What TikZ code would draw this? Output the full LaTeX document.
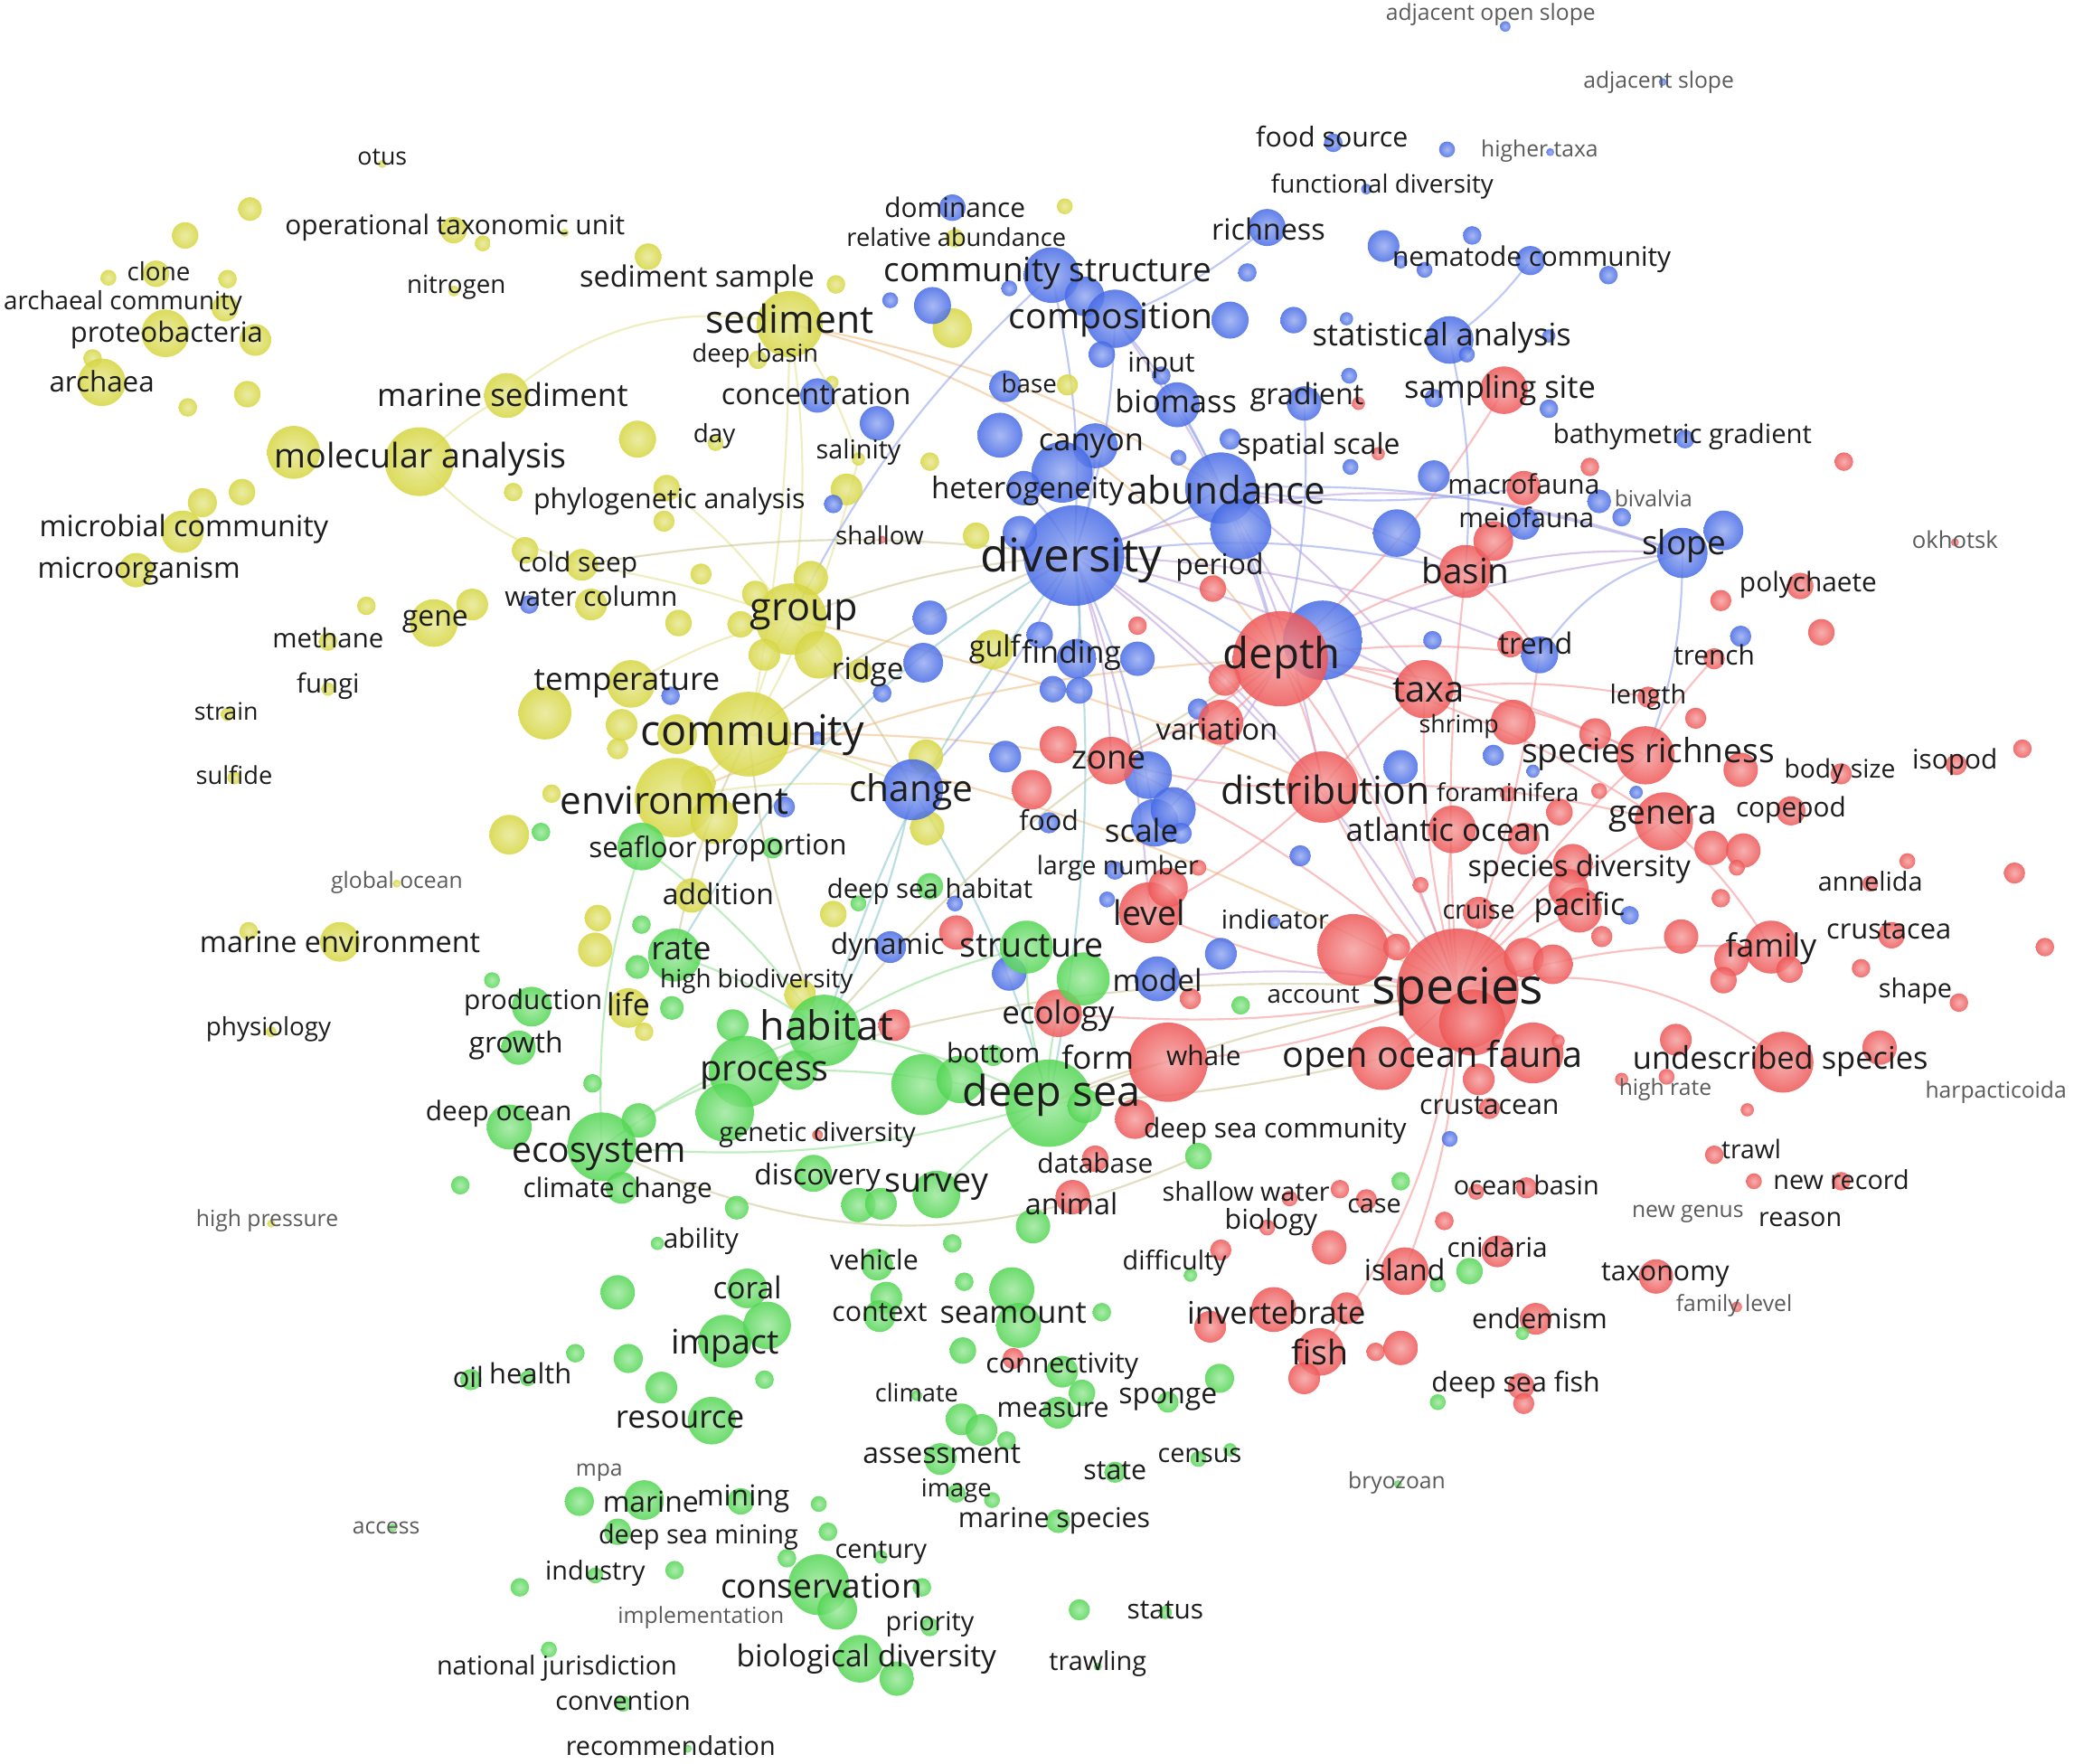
\documentclass[tikz,border=0pt]{standalone}
\usepackage{fontspec}
\setmainfont{Open Sans}
\definecolor{cr}{RGB}{238,86,86}
\definecolor{cb}{RGB}{70,106,230}
\definecolor{cg}{RGB}{82,214,82}
\definecolor{cy}{RGB}{214,214,64}
\definecolor{tx}{RGB}{28,28,28}
\definecolor{tg}{RGB}{90,90,90}
\definecolor{ceY}{RGB}{228,228,150}
\definecolor{ceO}{RGB}{240,192,135}
\definecolor{ceB}{RGB}{150,166,236}
\definecolor{ceP}{RGB}{192,162,222}
\definecolor{ceR}{RGB}{246,152,152}
\definecolor{ceG}{RGB}{150,226,150}
\definecolor{ceT}{RGB}{140,200,205}
\definecolor{ceV}{RGB}{206,200,152}
\tikzset{
  lab/.style={inner sep=0pt, text=tx},
  labg/.style={inner sep=0pt, text=tg},
  edge/.style={line width=0.42pt, opacity=0.6},
  ey/.style={edge, draw=ceY}, eo/.style={edge, draw=ceO}, eb/.style={edge, draw=ceB},
  ep/.style={edge, draw=ceP}, er/.style={edge, draw=ceR}, eg/.style={edge, draw=ceG},
  et/.style={edge, draw=ceT}, ev/.style={edge, draw=ceV}
}
% pass 1: coordinates only
\newcommand\kbubA[5]{\coordinate (#1) at (#2,#3);}
\newcommand\xbubA[4]{}
% pass 2: draw bubbles
\newcommand\kbubB[5]{\shade[inner color=#5!55!white,outer color=#5,fill opacity=0.85] (#1) circle[radius=#4];}
\newcommand\xbubB[4]{\shade[inner color=#4!55!white,outer color=#4,fill opacity=0.85] (#1,#2) circle[radius=#3];}
\newcommand\klab[5]{\node[lab,font=\fontsize{#4pt}{#4pt}\selectfont] (l#1) at (#2,#3) {#5};}
\newcommand\kgry[5]{\node[labg,font=\fontsize{#4pt}{#4pt}\selectfont] (l#1) at (#2,#3) {#5};}
% curved connector between two named bubbles
\newcommand\E[4][8]{\draw[#2] (#3) to[bend left=#1] (#4);}
\newcommand\AllBubbles{%
% ---------------- yellow bubbles
\kbub{otus}{289}{124}{3}{cy}
\xbub{189}{158}{9}{cy}\xbub{140}{178}{10}{cy}
\kbub{otu}{343}{174}{10}{cy}\xbub{365}{184}{6}{cy}\xbub{427}{176}{3}{cy}
\kbub{clone}{118}{207}{10}{cy}\xbub{82}{210}{6}{cy}\xbub{172}{211}{7}{cy}
\kbub{archcomm}{170}{233}{10}{cy}
\kbub{nitrogen}{343}{220}{4}{cy}
\kbub{sedsample}{490}{194}{10}{cy}\xbub{632}{215}{7}{cy}
\kbub{sediment}{597}{245}{25}{cy}
\xbub{720}{248}{15}{cy}
\kbub{proteo}{125}{252}{18}{cy}\xbub{193}{257}{12}{cy}
\xbub{70}{271}{7}{cy}
\kbub{archaea}{77}{289}{18}{cy}
\xbub{187}{298}{10}{cy}\xbub{142}{308}{7}{cy}
\kbub{deepbasin}{573}{272}{7}{cy}
\kbub{marinesed}{383}{299}{17}{cy}
\xbub{482}{332}{14}{cy}
\kbub{molecular}{317}{349}{26}{cy}\xbub{222}{342}{20}{cy}
\xbub{183}{372}{10}{cy}\xbub{153}{380}{11}{cy}
\kbub{day}{541}{335}{6}{cy}
\xbub{629}{289}{5}{cy}\xbub{807}{291}{8}{cy}\xbub{805}{156}{6}{cy}
\kbub{relabund}{722}{180}{7}{cy}
\kbub{salinity}{649}{347}{5}{cy}\xbub{703}{349}{7}{cy}
\kbub{phylo}{504}{369}{10}{cy}\xbub{502}{394}{8}{cy}\xbub{388}{372}{7}{cy}\xbub{640}{370}{12}{cy}
\kbub{microbial}{138}{402}{16}{cy}
\kbub{microorg}{103}{431}{13}{cy}
\kbub{coldseep}{440}{427}{12}{cy}\xbub{397}{416}{10}{cy}
\xbub{738}{405}{10}{cy}\xbub{530}{434}{8}{cy}\xbub{613}{437}{13}{cy}
\kbub{watercol}{447}{457}{12}{cy}\xbub{357}{457}{12}{cy}\xbub{513}{471}{10}{cy}\xbub{277}{458}{7}{cy}
\kbub{gene}{328}{471}{18}{cy}
\kbub{methane}{248}{485}{7}{cy}
\kbub{fungi}{248}{521}{5}{cy}
\kbub{strain}{172}{540}{5}{cy}
\kbub{sulfide}{177}{588}{5}{cy}
\kbub{group}{598}{468}{27}{cy}\xbub{619}{495}{18}{cy}\xbub{571}{449}{10}{cy}\xbub{560}{472}{10}{cy}\xbub{578}{495}{12}{cy}
\kbub{gulf}{751}{491}{15}{cy}
\kbub{ridge}{650}{507}{9}{cy}
\kbub{temperature}{477}{517}{18}{cy}\xbub{412}{539}{20}{cy}\xbub{470}{548}{12}{cy}\xbub{467}{566}{8}{cy}\xbub{512}{555}{15}{cy}
\kbub{community}{566}{555}{32}{cy}
\xbub{528}{592}{13}{cy}
\kbub{environment}{510}{603}{30}{cy}\xbub{540}{620}{18}{cy}\xbub{417}{600}{7}{cy}
\xbub{385}{631}{15}{cy}
\xbub{700}{572}{13}{cy}\xbub{701}{626}{13}{cy}
\kbub{addition}{523}{677}{13}{cy}
\xbub{630}{691}{10}{cy}
\kbub{globalocean}{300}{668}{3}{cy}
\kbub{marineenv}{257}{712}{15}{cy}\xbub{188}{704}{7}{cy}
\xbub{452}{694}{10}{cy}\xbub{450}{718}{13}{cy}
\kbub{life}{475}{762}{15}{cy}\xbub{487}{780}{7}{cy}
\xbub{605}{752}{12}{cy}
\kbub{physiology}{205}{780}{4}{cy}
\kbub{highpressure}{205}{925}{3}{cy}
% ---------------- blue bubbles
\kbub{adjopen}{1138}{20}{4}{cb}
\kbub{adjslope}{1257}{62}{3}{cb}
\kbub{foodsource}{1008}{108}{7}{cb}\xbub{1094}{113}{6}{cb}
\kbub{highertaxa}{1172}{115}{3}{cb}
\kbub{functional}{1033}{143}{4}{cb}
\kbub{dominance}{720}{157}{10}{cb}
\kbub{richness}{958}{172}{14}{cb}
\xbub{1046}{186}{12}{cb}\xbub{1059}{198}{5}{cb}\xbub{1077}{204}{6}{cb}\xbub{1113}{178}{7}{cb}\xbub{1216}{208}{7}{cb}
\kbub{nematode}{1157}{197}{11}{cb}
\kbub{commstruct}{795}{208}{21}{cb}
\xbub{763}{218}{6}{cb}\xbub{673}{227}{6}{cb}\xbub{705}{231}{14}{cb}\xbub{820}{224}{15}{cb}
\kbub{composition}{843}{241}{22}{cb}
\xbub{930}{242}{14}{cb}\xbub{978}{242}{10}{cb}\xbub{943}{206}{7}{cb}\xbub{833}{268}{10}{cb}\xbub{1018}{241}{5}{cb}\xbub{1020}{284}{6}{cb}
\kbub{statistical}{1096}{257}{18}{cb}\xbub{1109}{268}{6}{cb}\xbub{1171}{254}{5}{cb}
\kbub{concentration}{618}{299}{13}{cb}
\kbub{base}{760}{292}{12}{cb}
\kbub{input}{878}{284}{7}{cb}
\kbub{biomass}{890}{306}{17}{cb}
\kbub{gradient}{986}{305}{13}{cb}
\xbub{1084}{301}{7}{cb}\xbub{1171}{309}{7}{cb}
\xbub{663}{320}{13}{cb}\xbub{756}{329}{17}{cb}
\kbub{canyon}{828}{337}{17}{cb}\xbub{803}{357}{23}{cb}
\xbub{930}{332}{8}{cb}\xbub{891}{346}{6}{cb}\xbub{1021}{353}{6}{cb}
\kbub{abundance}{923}{369}{27}{cb}\xbub{938}{400}{23}{cb}
\kbub{heterog}{774}{369}{13}{cb}
\xbub{630}{381}{7}{cb}
\kbub{diversity}{812}{420}{38}{cb}
\xbub{771}{403}{13}{cb}
\xbub{1056}{403}{18}{cb}\xbub{1084}{360}{12}{cb}
\kbub{meiofauna}{1152}{396}{12}{cb}
\kbub{bivalvia}{1209}{379}{9}{cb}\xbub{1226}{391}{7}{cb}
\kbub{bathym}{1274}{332}{7}{cb}
\kbub{slope}{1272}{418}{19}{cb}\xbub{1303}{401}{15}{cb}
\kbub{trend}{1164}{495}{14}{cb}
\xbub{1083}{484}{7}{cb}\xbub{1316}{481}{8}{cb}
\xbub{1129}{571}{8}{cb}\xbub{1059}{580}{13}{cb}\xbub{1159}{583}{5}{cb}\xbub{1237}{599}{5}{cb}
\kbub{finding}{814}{498}{15}{cb}\xbub{860}{498}{13}{cb}\xbub{796}{521}{10}{cb}\xbub{816}{522}{10}{cb}\xbub{786}{480}{10}{cb}
\xbub{906}{536}{8}{cb}
\xbub{703}{467}{13}{cb}\xbub{698}{501}{15}{cb}\xbub{667}{524}{7}{cb}
\xbub{1000}{484}{30}{cb}
\xbub{400}{457}{7}{cb}\xbub{507}{526}{7}{cb}\xbub{618}{558}{5}{cb}
\kbub{change}{690}{597}{23}{cb}
\xbub{593}{610}{8}{cb}\xbub{760}{572}{12}{cb}
\xbub{868}{586}{18}{cb}
\kbub{scale}{873}{622}{18}{cb}\xbub{887}{612}{17}{cb}\xbub{893}{630}{8}{cb}
\kbub{food}{793}{622}{8}{cb}
\kbub{largenumber}{843}{658}{7}{cb}\xbub{837}{680}{6}{cb}
\kbub{indicator}{964}{697}{4}{cb}
\xbub{673}{716}{12}{cb}\xbub{763}{736}{13}{cb}\xbub{722}{683}{6}{cb}
\kbub{model}{875}{740}{17}{cb}
\xbub{923}{721}{12}{cb}\xbub{1232}{692}{7}{cb}\xbub{1096}{861}{6}{cb}\xbub{983}{647}{8}{cb}
% ---------------- red bubbles
\kbub{okhotsk}{1478}{410}{3}{cr}
\xbub{1394}{349}{7}{cr}\xbub{1202}{353}{7}{cr}
\kbub{macrofauna}{1152}{369}{13}{cr}
\kbub{sampling}{1137}{295}{18}{cr}
\xbub{1027}{305}{5}{cr}\xbub{1042}{343}{5}{cr}\xbub{667}{408}{3}{cr}
\kbub{basin}{1108}{432}{20}{cr}\xbub{1129}{409}{15}{cr}
\kbub{period}{917}{445}{10}{cr}
\kbub{polychaete}{1361}{443}{10}{cr}\xbub{1301}{454}{8}{cr}\xbub{1377}{478}{10}{cr}
\xbub{860}{473}{7}{cr}\xbub{1142}{487}{10}{cr}
\kbub{depth}{968}{498}{36}{cr}
\xbub{926}{514}{12}{cr}
\kbub{variation}{923}{546}{17}{cr}
\kbub{taxa}{1077}{521}{22}{cr}\xbub{1144}{546}{17}{cr}
\kbub{length}{1246}{527}{8}{cr}\xbub{1282}{543}{8}{cr}
\kbub{trench}{1296}{498}{8}{cr}
\kbub{specrich}{1244}{571}{22}{cr}\xbub{1206}{555}{12}{cr}\xbub{1316}{582}{13}{cr}
\kbub{bodysize}{1392}{585}{8}{cr}
\kbub{isopod}{1479}{578}{8}{cr}\xbub{1529}{566}{7}{cr}
\kbub{forams}{1140}{600}{6}{cr}\xbub{1209}{598}{6}{cr}
\kbub{zone}{840}{575}{18}{cr}\xbub{800}{563}{14}{cr}\xbub{780}{597}{15}{cr}
\kbub{distribution}{1000}{595}{27}{cr}
\kbub{atlantic}{1098}{627}{18}{cr}\xbub{1152}{634}{12}{cr}\xbub{1179}{614}{10}{cr}
\kbub{genera}{1258}{621}{22}{cr}
\kbub{copepod}{1354}{613}{11}{cr}
\xbub{1294}{641}{13}{cr}\xbub{1318}{643}{13}{cr}\xbub{1313}{656}{6}{cr}
\kbub{specdiv}{1189}{653}{15}{cr}\xbub{1186}{672}{15}{cr}
\xbub{1074}{669}{6}{cr}
\kbub{cruise}{1118}{690}{12}{cr}
\kbub{pacific}{1194}{688}{17}{cr}\xbub{1211}{708}{8}{cr}\xbub{1301}{679}{7}{cr}
\kbub{annelida}{1414}{668}{6}{cr}\xbub{1442}{651}{6}{cr}\xbub{1523}{660}{8}{cr}
\xbub{1271}{708}{13}{cr}
\kbub{family}{1339}{716}{20}{cr}\xbub{1309}{725}{13}{cr}\xbub{1303}{741}{10}{cr}\xbub{1353}{733}{10}{cr}
\kbub{crustacea}{1430}{707}{10}{cr}
\xbub{1546}{716}{7}{cr}\xbub{1407}{732}{7}{cr}
\kbub{shape}{1481}{758}{7}{cr}
\kbub{level}{869}{690}{23}{cr}\xbub{883}{671}{15}{cr}
\xbub{906}{656}{6}{cr}\xbub{723}{705}{13}{cr}
\xbub{1023}{718}{27}{cr}
\kbub{species}{1102}{748}{46}{cr}\xbub{1113}{773}{25}{cr}\xbub{1152}{724}{15}{cr}\xbub{1174}{729}{15}{cr}\xbub{1056}{716}{10}{cr}
\xbub{900}{755}{8}{cr}\xbub{676}{775}{12}{cr}
\kbub{ecology}{800}{766}{18}{cr}
\kbub{whale}{883}{803}{30}{cr}
\kbub{openocean}{1045}{800}{24}{cr}\xbub{1159}{796}{23}{cr}\xbub{1118}{816}{12}{cr}\xbub{1178}{787}{5}{cr}
\xbub{858}{846}{15}{cr}
\kbub{undescribed}{1348}{803}{23}{cr}\xbub{1267}{786}{12}{cr}\xbub{1421}{792}{13}{cr}
\kbub{highrate}{1226}{816}{5}{cr}\xbub{1260}{814}{6}{cr}\xbub{1321}{839}{5}{cr}
\kbub{crustacean}{1126}{838}{8}{cr}
\kbub{trawl}{1296}{873}{7}{cr}
\kbub{newrecord}{1392}{893}{7}{cr}\xbub{1326}{893}{6}{cr}
\kbub{oceanbasin}{1154}{898}{8}{cr}\xbub{1116}{901}{6}{cr}
\xbub{618}{858}{4}{cr}
\kbub{database}{828}{876}{10}{cr}
\kbub{animal}{811}{905}{13}{cr}
\kbub{shallowwater}{975}{906}{6}{cr}\xbub{1013}{899}{7}{cr}
\kbub{case}{1033}{907}{8}{cr}
\kbub{biology}{958}{928}{6}{cr}\xbub{1092}{923}{7}{cr}
\kbub{difficulty}{923}{945}{8}{cr}\xbub{1005}{943}{13}{cr}
\kbub{cnidaria}{1132}{946}{12}{cr}
\kbub{island}{1062}{961}{18}{cr}
\kbub{taxonomy}{1252}{965}{13}{cr}
\kbub{familylevel}{1313}{988}{4}{cr}
\kbub{invertebrate}{963}{990}{17}{cr}\xbub{915}{1003}{12}{cr}\xbub{1018}{989}{12}{cr}
\kbub{endemism}{1161}{997}{12}{cr}
\kbub{fish}{998}{1022}{18}{cr}\xbub{986}{1042}{12}{cr}\xbub{1040}{1022}{7}{cr}\xbub{1059}{1019}{13}{cr}
\xbub{766}{1027}{8}{cr}
\kbub{deepseafish}{1150}{1048}{10}{cr}\xbub{1152}{1061}{8}{cr}
% ---------------- green bubbles
\kbub{seafloor}{485}{640}{18}{cg}\xbub{409}{629}{7}{cg}\xbub{584}{641}{8}{cg}
\kbub{dshabitat}{703}{670}{10}{cg}\xbub{649}{683}{6}{cg}
\xbub{485}{699}{7}{cg}\xbub{482}{731}{9}{cg}
\kbub{rate}{510}{722}{20}{cg}\xbub{372}{741}{6}{cg}
\kbub{production}{402}{761}{15}{cg}\xbub{508}{762}{9}{cg}
\kbub{growth}{392}{792}{13}{cg}
\kbub{habitat}{623}{779}{27}{cg}\xbub{554}{775}{12}{cg}
\kbub{structure}{776}{716}{20}{cg}\xbub{819}{740}{20}{cg}
\xbub{938}{760}{7}{cg}\xbub{448}{819}{7}{cg}
\kbub{bottom}{751}{798}{8}{cg}
\kbub{process}{563}{810}{27}{cg}\xbub{603}{809}{15}{cg}
\kbub{deepsea}{793}{834}{33}{cg}\xbub{697}{820}{23}{cg}\xbub{726}{816}{18}{cg}\xbub{820}{836}{13}{cg}
\xbub{548}{841}{22}{cg}
\kbub{deepocean}{385}{852}{17}{cg}\xbub{483}{847}{13}{cg}
\kbub{ecosystem}{455}{867}{26}{cg}
\kbub{climchange}{470}{898}{12}{cg}\xbub{348}{896}{7}{cg}
\kbub{discovery}{615}{887}{14}{cg}
\kbub{survey}{708}{903}{18}{cg}\xbub{649}{911}{13}{cg}\xbub{666}{910}{12}{cg}
\xbub{557}{913}{9}{cg}
\kbub{dsc}{906}{874}{10}{cg}
\xbub{781}{927}{13}{cg}\xbub{497}{940}{5}{cg}\xbub{720}{940}{7}{cg}
\kbub{vehicle}{663}{956}{12}{cg}
\xbub{467}{977}{13}{cg}
\kbub{coral}{565}{974}{15}{cg}\xbub{729}{969}{7}{cg}
\kbub{context}{670}{981}{12}{cg}\xbub{665}{995}{12}{cg}
\kbub{seamount}{765}{975}{17}{cg}\xbub{770}{1002}{17}{cg}
\xbub{833}{992}{7}{cg}\xbub{900}{964}{5}{cg}
\kbub{impact}{548}{1014}{20}{cg}\xbub{580}{1002}{18}{cg}
\xbub{435}{1023}{7}{cg}\xbub{475}{1027}{11}{cg}\xbub{500}{1049}{12}{cg}
\kbub{oil}{356}{1043}{8}{cg}
\kbub{health}{399}{1042}{6}{cg}
\xbub{728}{1021}{10}{cg}
\kbub{connectivity}{803}{1037}{12}{cg}
\xbub{922}{1042}{11}{cg}\xbub{578}{1043}{7}{cg}
\kbub{climate}{693}{1055}{4}{cg}
\kbub{measure}{800}{1068}{12}{cg}\xbub{818}{1053}{10}{cg}
\kbub{sponge}{883}{1060}{8}{cg}
\kbub{resource}{538}{1074}{18}{cg}
\xbub{727}{1073}{12}{cg}\xbub{742}{1081}{12}{cg}\xbub{761}{1089}{7}{cg}
\kbub{assessment}{711}{1103}{12}{cg}
\kbub{census}{906}{1103}{6}{cg}\xbub{930}{1096}{5}{cg}
\kbub{state}{843}{1113}{8}{cg}
\kbub{image}{723}{1129}{7}{cg}\xbub{750}{1134}{6}{cg}
\kbub{marinespecies}{800}{1150}{9}{cg}
\xbub{438}{1135}{11}{cg}\xbub{487}{1134}{15}{cg}
\kbub{mining}{560}{1135}{10}{cg}\xbub{619}{1137}{6}{cg}
\kbub{dsmining}{467}{1158}{10}{cg}\xbub{626}{1158}{7}{cg}
\kbub{century}{666}{1177}{5}{cg}\xbub{595}{1178}{7}{cg}
\kbub{industry}{450}{1191}{6}{cg}\xbub{510}{1187}{7}{cg}\xbub{393}{1200}{7}{cg}
\kbub{conservation}{619}{1198}{23}{cg}\xbub{633}{1217}{15}{cg}\xbub{697}{1200}{7}{cg}
\kbub{priority}{703}{1230}{7}{cg}
\kbub{status}{881}{1219}{5}{cg}\xbub{816}{1217}{8}{cg}
\kbub{biodiv}{650}{1254}{18}{cg}\xbub{678}{1269}{13}{cg}
\kbub{trawling}{830}{1260}{3}{cg}
\kbub{natjur}{415}{1247}{6}{cg}
\kbub{convention}{471}{1288}{6}{cg}
\kbub{recommend}{520}{1322}{3}{cg}
\kbub{access}{297}{1155}{3}{cg}
\kbub{bryozoan}{1057}{1122}{3}{cg}
\xbub{1059}{893}{7}{cg}\xbub{1111}{961}{10}{cg}\xbub{1087}{971}{6}{cg}\xbub{1151}{1008}{5}{cg}\xbub{1087}{1060}{6}{cg}
}
\begin{document}
\begin{tikzpicture}[x=0.1mm,y=-0.1mm]
\fill[white] (0,0) rectangle (1568,1333);
\useasboundingbox (0,0) rectangle (1568,1333);
% pass 1: named coordinates
\let\kbub\kbubA \let\xbub\xbubA
\AllBubbles
% ---------------- connectors
\E[25]{ey}{marinesed}{sediment}
\E[-15]{ey}{molecular}{coldseep}
\E{ey}{molecular}{marinesed}
\E[5]{ey}{coldseep}{group}
\E[5]{ey}{sediment}{community}
\E{ey}{sediment}{group}
\E{ey}{community}{group}
\E{ey}{community}{environment}
\E{ey}{temperature}{group}
\E{ey}{phylo}{group}
\E{ey}{salinity}{community}
\E{ey}{environment}{change}
\E{ey}{community}{change}
\E{ey}{sediment}{salinity}
\E{ev}{group}{diversity}
\E{ev}{community}{diversity}
\E{ev}{coldseep}{diversity}
\E{ev}{group}{change}
\E[20]{eo}{sediment}{depth}
\E[10]{eo}{sediment}{abundance}
\E[10]{eo}{environment}{depth}
\E{eo}{community}{species}
\E[5]{eo}{group}{distribution}
\E[5]{eo}{community}{zone}
\E{eb}{commstruct}{diversity}
\E{eb}{composition}{diversity}
\E[-10]{eb}{commstruct}{group}
\E{eb}{abundance}{diversity}
\E{eb}{diversity}{depth}
\E[10]{eb}{diversity}{basin}
\E[20]{ep}{diversity}{slope}
\E[10]{eb}{abundance}{slope}
\E{ep}{diversity}{distribution}
\E{ep}{diversity}{taxa}
\E[10]{ep}{diversity}{trend}
\E{ep}{abundance}{basin}
\E{ep}{abundance}{taxa}
\E{eb}{composition}{abundance}
\E{eb}{canyon}{diversity}
\E{eb}{diversity}{change}
\E{eb}{diversity}{scale}
\E{ep}{diversity}{zone}
\E{eb}{diversity}{finding}
\E[10]{eb}{slope}{specrich}
\E[-20]{eb}{slope}{trend}
\E{ep}{basin}{slope}
\E{eb}{biomass}{depth}
\E{eb}{gradient}{depth}
\E{eb}{richness}{composition}
\E{eb}{nematode}{statistical}
\E{eb}{statistical}{basin}
\E{eb}{meiofauna}{basin}
\E{eb}{macrofauna}{abundance}
\E[10]{ep}{composition}{depth}
\E[10]{ep}{diversity}{species}
\E[5]{ep}{abundance}{species}
\E{ep}{abundance}{distribution}
\E{eb}{heterog}{diversity}
\E{et}{change}{habitat}
\E[-10]{et}{diversity}{habitat}
\E{et}{diversity}{deepsea}
\E{et}{change}{deepsea}
\E{ep}{diversity}{level}
\E{ep}{model}{species}
\E[-15]{et}{diversity}{rate}
\E{er}{depth}{species}
\E{er}{depth}{distribution}
\E{er}{depth}{taxa}
\E{er}{depth}{basin}
\E{er}{depth}{zone}
\E{er}{depth}{variation}
\E[10]{er}{depth}{specrich}
\E{er}{species}{distribution}
\E{er}{species}{specrich}
\E{er}{species}{genera}
\E[10]{er}{species}{family}
\E[25]{er}{species}{undescribed}
\E{er}{species}{pacific}
\E{er}{species}{atlantic}
\E{er}{species}{specdiv}
\E{er}{species}{taxa}
\E[-5]{er}{species}{trend}
\E[5]{er}{species}{basin}
\E[10]{er}{species}{island}
\E[15]{er}{species}{fish}
\E{er}{species}{openocean}
\E{er}{species}{whale}
\E{er}{species}{level}
\E{er}{distribution}{taxa}
\E{er}{distribution}{zone}
\E{er}{distribution}{level}
\E{er}{taxa}{specrich}
\E{er}{basin}{trend}
\E{er}{specrich}{trench}
\E{er}{taxa}{length}
\E{er}{genera}{family}
\E{ep}{depth}{slope}
\E{er}{sampling}{depth}
\E{er}{depth}{trend}
\E{er}{zone}{species}
\E{ep}{depth}{scale}
\E{er}{species}{ecology}
\E{er}{distribution}{genera}
\E[10]{er}{depth}{genera}
\E[-10]{eg}{seafloor}{ecosystem}
\E[-25]{ev}{ecosystem}{dsc}
\E{eg}{habitat}{deepsea}
\E{eg}{process}{deepsea}
\E{eg}{habitat}{process}
\E{eg}{rate}{habitat}
\E{eg}{ecosystem}{habitat}
\E{eg}{ecosystem}{process}
\E{eg}{deepsea}{structure}
\E{eg}{deepsea}{ecology}
\E{eg}{seafloor}{habitat}
\E[5]{ev}{deepsea}{species}
\E[-5]{ev}{deepsea}{openocean}
\E{ev}{deepsea}{whale}
\E{ev}{habitat}{community}
\E{ev}{rate}{community}
\E[-10]{eg}{ecosystem}{deepsea}
\E{eg}{survey}{deepsea}
\E{eg}{habitat}{structure}
\E[10]{ev}{habitat}{depth}
\E[10]{ev}{process}{species}
% pass 2: bubbles
\let\kbub\kbubB \let\xbub\xbubB
\AllBubbles
% ---------------- labels
\kgry{adjopen}{1127}{11}{4.8}{adjacent open slope}
\kgry{adjslope}{1254}{62}{4.8}{adjacent slope}
\klab{foodsource}{1007}{103}{5.9}{food source}
\kgry{highertaxa}{1164}{114}{4.8}{higher taxa}
\klab{functional}{1045}{141}{5.4}{functional diversity}
\klab{otus}{289}{119}{5.2}{otus}
\klab{otu}{344}{172}{5.8}{operational taxonomic unit}
\klab{dominance}{722}{157}{5.8}{dominance}
\klab{relabund}{723}{179}{5.3}{relative abundance}
\klab{richness}{959}{173}{6.3}{richness}
\klab{nematode}{1158}{196}{5.8}{nematode community}
\klab{clone}{120}{205}{5.4}{clone}
\klab{nitrogen}{345}{217}{5.4}{nitrogen}
\klab{archcomm}{93}{229}{5.4}{archaeal community}
\klab{sedsample}{527}{211}{6.3}{sediment sample}
\klab{commstruct}{792}{207}{7.2}{community structure}
\klab{sediment}{597}{241}{8.3}{sediment}
\klab{composition}{840}{242}{7.6}{composition}
\klab{statistical}{1090}{255}{6.7}{statistical analysis}
\klab{proteo}{126}{253}{6.0}{proteobacteria}
\klab{deepbasin}{571}{269}{5.3}{deep basin}
\klab{input}{878}{276}{5.9}{input}
\klab{archaea}{77}{288}{6.1}{archaea}
\klab{marinesed}{380}{298}{6.8}{marine sediment}
\klab{concentration}{617}{298}{6.3}{concentration}
\klab{base}{778}{290}{5.4}{base}
\klab{biomass}{889}{303}{6.7}{biomass}
\klab{gradient}{988}{300}{6.3}{gradient}
\klab{sampling}{1134}{295}{6.7}{sampling site}
\klab{day}{540}{330}{5.4}{day}
\klab{bathym}{1272}{330}{5.7}{bathymetric gradient}
\klab{canyon}{825}{337}{6.7}{canyon}
\klab{spatial}{997}{338}{6.2}{spatial scale}
\klab{salinity}{649}{342}{5.6}{salinity}
\klab{molecular}{318}{347}{7.3}{molecular analysis}
\klab{macrofauna}{1152}{366}{5.8}{macrofauna}
\klab{heterog}{777}{371}{6.4}{heterogeneity}
\klab{abundance}{927}{370}{8.2}{abundance}
\kgry{bivalvia}{1250}{377}{4.8}{bivalvia}
\klab{phylo}{506}{379}{5.9}{phylogenetic analysis}
\klab{meiofauna}{1154}{391}{5.8}{meiofauna}
\klab{microbial}{139}{400}{6.3}{microbial community}
\klab{shallow}{665}{405}{5.4}{shallow}
\kgry{okhotsk}{1478}{408}{5.0}{okhotsk}
\klab{slope}{1273}{413}{7.2}{slope}
\klab{diversity}{810}{423}{10}{diversity}
\klab{period}{922}{429}{6.2}{period}
\klab{basin}{1108}{431}{7.5}{basin}
\klab{coldseep}{437}{427}{5.8}{cold seep}
\klab{microorg}{105}{432}{6.2}{microorganism}
\klab{polychaete}{1367}{442}{5.8}{polychaete}
\klab{watercol}{447}{451}{5.8}{water column}
\klab{group}{608}{465}{8.4}{group}
\klab{gene}{329}{470}{6.2}{gene}
\klab{methane}{248}{482}{5.7}{methane}
\klab{trend}{1161}{486}{6.3}{trend}
\klab{gulf}{752}{491}{6.3}{gulf}
\klab{finding}{810}{495}{6.6}{finding}
\klab{trench}{1296}{495}{5.8}{trench}
\klab{depth}{969}{497}{9.2}{depth}
\klab{ridge}{656}{508}{6.5}{ridge}
\klab{temperature}{474}{517}{6.8}{temperature}
\klab{fungi}{248}{519}{5.7}{fungi}
\klab{taxa}{1080}{522}{7.8}{taxa}
\klab{length}{1246}{527}{5.6}{length}
\klab{strain}{171}{538}{5.2}{strain}
\klab{variation}{920}{551}{6.4}{variation}
\klab{shrimp}{1103}{549}{5.2}{shrimp}
\klab{community}{569}{556}{9.1}{community}
\klab{specrich}{1246}{570}{7.2}{species richness}
\klab{zone}{838}{575}{7.1}{zone}
\klab{isopod}{1478}{576}{5.8}{isopod}
\klab{bodysize}{1391}{583}{5.5}{body size}
\klab{sulfide}{177}{586}{5.3}{sulfide}
\klab{distribution}{1002}{597}{8.3}{distribution}
\klab{forams}{1140}{599}{5.3}{foraminifera}
\klab{change}{689}{599}{7.9}{change}
\klab{environment}{510}{605}{8.2}{environment}
\klab{copepod}{1354}{612}{5.8}{copepod}
\klab{genera}{1257}{619}{7.2}{genera}
\klab{food}{793}{620}{5.9}{food}
\klab{scale}{863}{628}{6.8}{scale}
\klab{atlantic}{1095}{627}{6.8}{atlantic ocean}
\klab{seafloor}{486}{640}{6.1}{seafloor}
\klab{proportion}{586}{641}{6.1}{proportion}
\klab{largenumber}{845}{656}{5.5}{large number}
\klab{specdiv}{1194}{657}{6.3}{species diversity}
\klab{annelida}{1414}{666}{5.6}{annelida}
\kgry{globalocean}{300}{667}{4.8}{global ocean}
\klab{dshabitat}{703}{674}{5.7}{deep sea habitat}
\klab{addition}{543}{676}{6.2}{addition}
\klab{level}{869}{690}{7.3}{level}
\klab{indicator}{964}{695}{5.6}{indicator}
\klab{cruise}{1118}{688}{5.6}{cruise}
\klab{pacific}{1194}{686}{6.6}{pacific}
\klab{crustacea}{1428}{703}{6.0}{crustacea}
\klab{marineenv}{257}{712}{6.3}{marine environment}
\klab{dynamic}{671}{716}{6.2}{dynamic}
\klab{structure}{780}{715}{7.3}{structure}
\klab{family}{1339}{717}{6.9}{family}
\klab{rate}{515}{718}{6.9}{rate}
\klab{highbio}{572}{742}{5.4}{high biodiversity}
\klab{model}{875}{741}{6.5}{model}
\klab{shape}{1448}{749}{5.6}{shape}
\klab{species}{1102}{750}{10.8}{species}
\klab{account}{993}{752}{5.4}{account}
\klab{production}{403}{758}{5.8}{production}
\klab{life}{475}{759}{6.6}{life}
\klab{habitat}{625}{775}{8.7}{habitat}
\klab{ecology}{800}{768}{6.8}{ecology}
\klab{physiology}{203}{778}{5.4}{physiology}
\klab{growth}{390}{790}{6.2}{growth}
\klab{bottom}{751}{796}{5.8}{bottom}
\klab{form}{830}{799}{6.8}{form}
\klab{whale}{910}{798}{5.8}{whale}
\klab{openocean}{1083}{800}{7.7}{open ocean fauna}
\klab{undescribed}{1346}{802}{6.7}{undescribed species}
\klab{process}{578}{813}{7.7}{process}
\kgry{highrate}{1259}{824}{4.8}{high rate}
\kgry{harpact}{1509}{826}{4.8}{harpacticoida}
\klab{deepsea}{795}{828}{9.1}{deep sea}
\klab{crustacean}{1126}{836}{5.9}{crustacean}
\klab{deepocean}{377}{842}{5.8}{deep ocean}
\klab{dsc}{964}{855}{5.8}{deep sea community}
\klab{genetic}{618}{858}{5.6}{genetic diversity}
\klab{trawl}{1324}{869}{5.5}{trawl}
\klab{ecosystem}{453}{873}{7.6}{ecosystem}
\klab{database}{828}{879}{5.8}{database}
\klab{discovery}{618}{890}{6.2}{discovery}
\klab{survey}{708}{897}{7.3}{survey}
\klab{newrecord}{1392}{892}{5.6}{new record}
\klab{oceanbasin}{1154}{896}{5.6}{ocean basin}
\klab{climchange}{467}{900}{5.8}{climate change}
\klab{shallowwater}{942}{901}{5.6}{shallow water}
\klab{animal}{810}{910}{6.3}{animal}
\klab{case}{1039}{912}{5.6}{case}
\kgry{newgenus}{1276}{918}{4.8}{new genus}
\klab{reason}{1361}{922}{5.6}{reason}
\kgry{highpressure}{202}{923}{4.8}{high pressure}
\klab{biology}{961}{924}{5.9}{biology}
\klab{ability}{530}{938}{5.8}{ability}
\klab{cnidaria}{1132}{943}{5.8}{cnidaria}
\klab{vehicle}{661}{952}{5.9}{vehicle}
\klab{difficulty}{888}{955}{5.6}{difficulty}
\klab{island}{1062}{960}{6.3}{island}
\klab{taxonomy}{1259}{964}{5.9}{taxonomy}
\klab{coral}{565}{973}{6.5}{coral}
\kgry{familylevel}{1311}{987}{4.8}{family level}
\klab{context}{665}{992}{5.9}{context}
\klab{seamount}{766}{993}{6.7}{seamount}
\klab{invertebrate}{965}{992}{6.7}{invertebrate}
\klab{endemism}{1164}{997}{5.9}{endemism}
\klab{impact}{548}{1017}{7.3}{impact}
\klab{fish}{998}{1022}{7.3}{fish}
\klab{connectivity}{803}{1033}{5.9}{connectivity}
\klab{oil}{354}{1041}{6.0}{oil}
\klab{health}{401}{1038}{6.0}{health}
\klab{deepseafish}{1146}{1047}{5.9}{deep sea fish}
\klab{climate}{693}{1053}{5.3}{climate}
\klab{sponge}{883}{1058}{6.2}{sponge}
\klab{measure}{796}{1066}{5.9}{measure}
\klab{resource}{514}{1073}{6.8}{resource}
\klab{assessment}{712}{1099}{6.2}{assessment}
\klab{census}{907}{1100}{5.6}{census}
\klab{state}{843}{1112}{5.9}{state}
\kgry{mpa}{453}{1113}{4.8}{mpa}
\kgry{bryozoan}{1056}{1121}{4.8}{bryozoan}
\klab{image}{723}{1127}{5.3}{image}
\klab{marine}{492}{1135}{6.2}{marine}
\klab{mining}{562}{1133}{6.2}{mining}
\klab{marinespecies}{797}{1150}{5.9}{marine species}
\kgry{access}{292}{1155}{4.8}{access}
\klab{dsmining}{528}{1162}{5.6}{deep sea mining}
\klab{century}{666}{1174}{5.6}{century}
\klab{industry}{450}{1189}{5.6}{industry}
\klab{conservation}{621}{1199}{7.2}{conservation}
\klab{status}{881}{1217}{5.8}{status}
\kgry{implement}{530}{1223}{4.8}{implementation}
\klab{priority}{703}{1228}{5.6}{priority}
\klab{biodiv}{655}{1254}{6.5}{biological diversity}
\klab{trawling}{830}{1258}{5.6}{trawling}
\klab{natjur}{421}{1261}{5.6}{national jurisdiction}
\klab{convention}{471}{1286}{5.6}{convention}
\klab{recommend}{507}{1320}{5.6}{recommendation}
\end{tikzpicture}
\end{document}
